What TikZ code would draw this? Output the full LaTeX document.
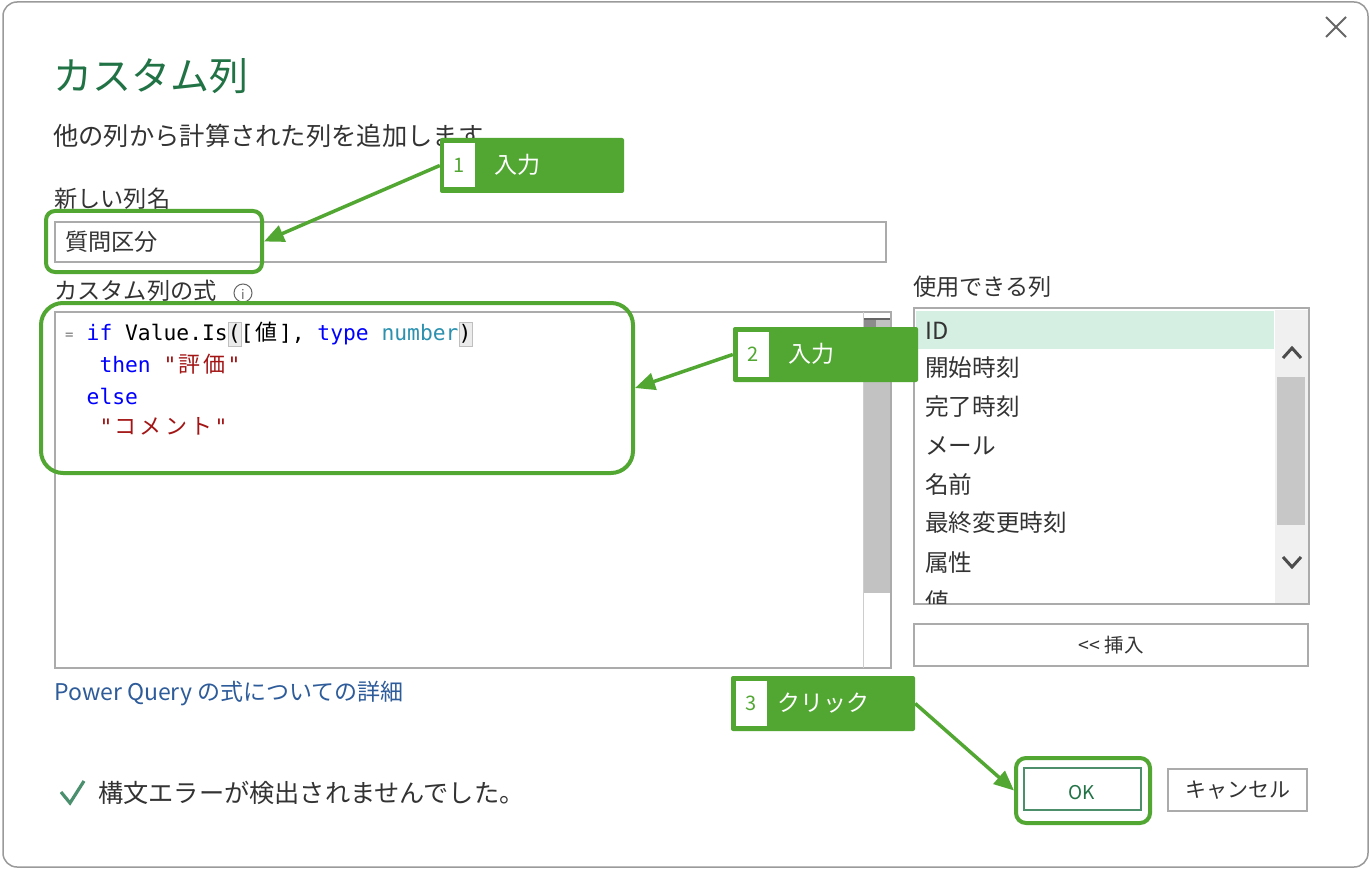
\documentclass[tikz,border=0pt]{standalone}
\usepackage{fontspec}
\setmainfont{Noto Sans CJK JP}
\newfontfamily\cjk{Noto Sans CJK JP}
\newfontfamily\codefont{DejaVu Sans Mono}
\usetikzlibrary{arrows.meta}
\definecolor{hlgreen}{HTML}{52A733}
\definecolor{titlegreen}{HTML}{217346}
\definecolor{txtgray}{HTML}{333333}
\definecolor{bordergray}{HTML}{ABABAB}
\definecolor{dlgborder}{HTML}{9A9A9A}
\definecolor{kwblue}{HTML}{0000FF}
\definecolor{numteal}{HTML}{2B91AF}
\definecolor{strred}{HTML}{A31515}
\definecolor{linkblue}{HTML}{2E5C9A}
\definecolor{selgreen}{HTML}{D5EFE2}
\definecolor{sbgray}{HTML}{C2C2C2}
\definecolor{checkgreen}{HTML}{4A8F6E}
\newcommand\setfs[1]{\fontsize{#1}{#1}\selectfont}
\newcommand\cw[1]{\makebox[25.6pt]{\cjk\setfs{22}#1}}
\tikzset{
  lbl/.style={anchor=base west, inner sep=0pt, text=txtgray},
  clbl/.style={anchor=base, inner sep=0pt, text=txtgray},
  codeln/.style={anchor=base west, inner sep=0pt, font=\codefont\setfs{21.3}},
  hlbox/.style={draw=hlgreen, line width=4pt, rounded corners=#1, inner sep=0pt},
  callbox/.style={fill=hlgreen, rounded corners=2pt, inner sep=0pt},
  numsq/.style={fill=white, inner sep=0pt, minimum width=31pt, minimum height=44pt, text=hlgreen, font=\setfs{20}},
  calltxt/.style={anchor=base, inner sep=0pt, text=white, font=\setfs{23}},
  arr/.style={draw=hlgreen, line width=3.5pt, -{Triangle[length=20pt,width=17pt]}},
  field/.style={draw=bordergray, line width=1.5pt, fill=white},
  chev/.style={draw=black!70, line width=3pt}
}
\begin{document}
\begin{tikzpicture}[x=1pt,y=-1pt]
\useasboundingbox (0,0) rectangle (1370,869);
\fill[white] (0,0) rectangle (1370,869);
% dialog
\draw[draw=dlgborder, fill=white, rounded corners=14pt, line width=1.5pt] (3,2) rectangle (1368,867);
% close
\draw[black!60, line width=1.8pt] (1326,17) -- (1346,37) (1346,17) -- (1326,37);
% title and labels
\node[lbl, text=titlegreen, font=\setfs{39}] (title) at (53,91) {カスタム列};
\node[lbl, font=\setfs{25.3}] (subtitle) at (53,146) {他の列から計算された列を追加します};
\node[lbl, font=\setfs{23.2}] (namelbl) at (54,207.3) {新しい列名};
% name field
\draw[field] (55,222) rectangle (886,262);
\node[lbl, font=\setfs{23.2}] (nameval) at (65,250.3) {質問区分};
% formula label
\node[lbl, font=\setfs{23.2}] (formlbl) at (54,299.3) {カスタム列の式};
\draw[black!60, line width=1pt] (243,293) circle (9);
\node[inner sep=0pt, text=black!60, font=\setfs{13}] (info) at (243,294) {i};
% code area
\draw[field] (55,312) rectangle (891,668);
\draw[bordergray!60, line width=1pt] (863,312) -- (863,668);
\fill[sbgray] (864,318) rectangle (890,593);
\fill[black!45] (864,318) rectangle (876,330);
\fill[black!60] (864,318) rectangle (890,320);
% bracket match boxes
\draw[fill=black!8, draw=black!25, line width=1pt] (228,322) rectangle (241,346);
\draw[fill=black!8, draw=black!25, line width=1pt] (459,322) rectangle (472,346);
\node[anchor=base west, inner sep=0pt, text=black!55, font=\codefont\setfs{14}] (eq) at (65,339) {=};
\node[codeln] (code1) at (86.5,340.4) {{\color{kwblue}if} Value.Is([\cw{値}], {\color{kwblue}type} {\color{numteal}number})};
\node[codeln] (code2) at (99.3,372.4) {{\color{kwblue}then} {\color{strred}"\cw{評}\cw{価}"}};
\node[codeln] (code3) at (86.5,404.4) {{\color{kwblue}else}};
\node[codeln] (code4) at (99.3,434.4) {{\color{strred}"\cw{コ}\cw{メ}\cw{ン}\cw{ト}"}};
% available columns
\node[lbl, font=\setfs{23.2}] (collbl) at (913,295.3) {使用できる列};
\draw[field] (914,308) rectangle (1309,604);
\fill[black!6] (1275,310) rectangle (1308,603);
\fill[black!22] (1277,377) rectangle (1305,525);
\draw[chev] (1283,358) -- (1292,348) -- (1301,358);
\draw[chev] (1283,557) -- (1292,567) -- (1301,557);
\fill[selgreen] (916,311) rectangle (1274,349);
\begin{scope}
\clip (915,309) rectangle (1274,603);
\node[lbl, font=\setfs{23.6}] (it1) at (925,339.5) {ID};
\node[lbl, font=\setfs{23.6}] (it2) at (925,376.5) {開始時刻};
\node[lbl, font=\setfs{23.6}] (it3) at (925,415.5) {完了時刻};
\node[lbl, font=\setfs{23.6}] (it4) at (925,454.5) {メール};
\node[lbl, font=\setfs{23.6}] (it5) at (925,493.5) {名前};
\node[lbl, font=\setfs{23.6}] (it6) at (925,531.5) {最終変更時刻};
\node[lbl, font=\setfs{23.6}] (it7) at (925,571.5) {属性};
\node[lbl, font=\setfs{23.6}] (it8) at (925,610.5) {値};
\end{scope}
% insert button
\draw[field] (914,624) rectangle (1308,666);
\node[clbl, font=\setfs{19.5}] (ins) at (1111,652) {\mbox{<}\mbox{<} 挿入};
% link
\node[lbl, text=linkblue, font=\setfs{23}] (link) at (54,700.3) {Power Query の式についての詳細};
% status
\draw[checkgreen, line width=3.2pt] (61,792) -- (70,803) -- (84,781);
\node[lbl, font=\setfs{25.2}] (status) at (98,802) {構文エラーが検出されませんでした。};
% buttons
\draw[fill=white, draw=titlegreen!80, line width=1.8pt] (1024,768) rectangle (1141,810);
\node[clbl, text=titlegreen, font=\setfs{19}] (ok) at (1082,799) {OK};
\draw[field] (1168,769) rectangle (1307,811);
\node[clbl, font=\setfs{21}] (cancel) at (1238,797.5) {キャンセル};
% highlight boxes
\node[hlbox=9pt, minimum width=216pt, minimum height=61pt] (hl1) at (154,241.5) {};
\node[hlbox=22pt, minimum width=592pt, minimum height=170pt] (hl2) at (337,388) {};
\node[hlbox=10pt, minimum width=134pt, minimum height=65pt] (hl3) at (1083,790.5) {};
% callouts
\node[callbox, minimum width=184pt, minimum height=55pt] (c1) at (532,165.5) {};
\node[numsq] (n1) at (459.5,165) {1};
\node[calltxt] (t1) at (517.5,173.3) {入力};
\node[callbox, minimum width=185pt, minimum height=55pt] (c2) at (825.5,354.5) {};
\node[numsq, minimum height=45pt] (n2) at (753.5,354.5) {2};
\node[calltxt] (t2) at (811.5,362.3) {入力};
\node[callbox, minimum width=184pt, minimum height=55pt] (c3) at (823,703.5) {};
\node[numsq, minimum height=45pt] (n3) at (751.5,703.5) {3};
\node[calltxt] (t3) at (823,711.3) {クリック};
% arrows
\draw[arr] (c1.west) -- (hl1.east);
\draw[arr] (c2.west) -- (hl2.east);
\draw[arr] (c3.east) -- (hl3.west);
\end{tikzpicture}
\end{document}
